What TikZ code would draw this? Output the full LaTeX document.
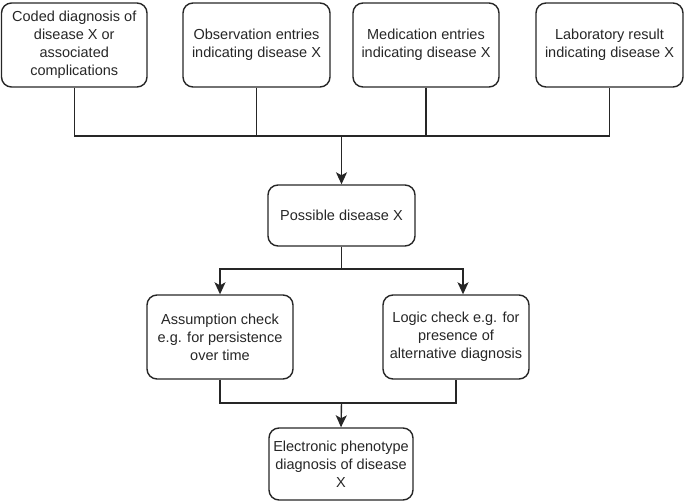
\documentclass[tikz,border=0pt]{standalone}
\usepackage{fontspec}
\setmainfont{Liberation Sans}
\usetikzlibrary{arrows.meta}
\begin{document}
\begin{tikzpicture}[x=1pt,y=-1pt,
  box/.style={draw=black!85, line width=1.4pt, rounded corners=10pt, align=center,
    font=\fontsize{14.5}{18}\selectfont, text=black!85, inner sep=0pt},
  conn/.style={draw=black!85, line width=1.4pt},
  arr/.style={conn, -{Stealth[length=12pt,width=11pt,inset=3pt]}}]
\useasboundingbox (0,0) rectangle (685,502);
\node[box, minimum width=145.5pt, minimum height=84pt] (b1) at (74.25,45) {Coded diagnosis of\\disease X or\\associated\\complications};
\node[box, minimum width=147pt, minimum height=84pt] (b2) at (256.5,45) {Observation entries\\indicating disease X};
\node[box, minimum width=146pt, minimum height=84pt] (b3) at (426,45) {Medication entries\\indicating disease X};
\node[box, minimum width=147pt, minimum height=84pt] (b4) at (609.5,45) {Laboratory result\\indicating disease X};
\node[box, minimum width=147pt, minimum height=61pt] (p) at (341.5,215.5) {Possible disease X};
\node[box, minimum width=146pt, minimum height=84pt] (a) at (220,337) {Assumption check\\e.g. for persistence\\over time};
\node[box, minimum width=146pt, minimum height=84pt] (l) at (456,337) {Logic check e.g. for\\presence of\\alternative diagnosis};
\node[box, minimum width=144pt, minimum height=72pt] (e) at (341,464) {Electronic phenotype\\diagnosis of disease\\X};
\coordinate (j1) at (341.5,136);
\coordinate (j2) at (341.5,269);
\coordinate (j3) at (341.5,403);
\draw[conn] (b1.south) |- (b4.south |- j1) -- (b4.south);
\draw[conn] (b2.south) -- (b2.south |- j1);
\draw[conn] (b3.south) -- (b3.south |- j1);
\draw[arr] (j1) -- (p.north);
\draw[conn] (p.south) -- (j2);
\draw[arr] (j2) -| (a.north);
\draw[arr] (j2) -| ([xshift=7pt]l.north);
\draw[conn] (a.south) |- (l.south |- j3) -- (l.south);
\draw[arr] (j3) -- (e.north);
\end{tikzpicture}
\end{document}
